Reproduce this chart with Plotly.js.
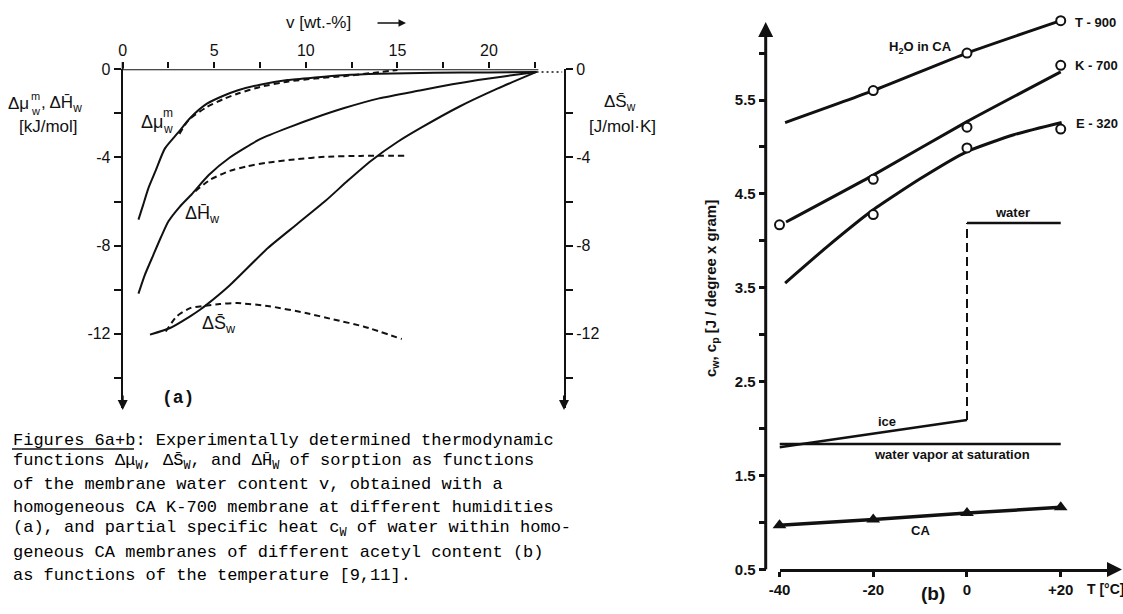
<!DOCTYPE html>
<html>
<head>
<meta charset="utf-8">
<script src="https://cdn.plot.ly/plotly-3.0.1.min.js"></script>
<style>html,body{margin:0;padding:0;background:#fff;}#chart{width:1123px;height:614px;}</style>
</head>
<body>
<div id="chart"></div>
<script>
// ---------- Panel (a): thermodynamic functions vs water content v [wt.-%] ----------
const vMuSolid = [0.86,1.1,1.4,1.8,2.3,3.0,3.7,4.6,5.5,6.3,7.5,9,10.5,12,14,17,20,22.6];
const muSolid  = [-6.82,-6.2,-5.4,-4.6,-3.6,-2.9,-2.2,-1.56,-1.2,-0.95,-0.7,-0.49,-0.37,-0.27,-0.2,-0.16,-0.14,-0.12];
const vMuDash  = [3.1,3.6,4.6,5.5,6.3,7.5,9,10.5,12.1,13.5,15.0];
const muDash   = [-2.93,-2.3,-1.71,-1.35,-1.1,-0.8,-0.56,-0.42,-0.31,-0.18,-0.03];
const vHSolid  = [0.86,1.2,1.67,2.1,2.5,3.1,3.76,4.7,5.85,7.5,9.19,10.5,12.1,14,16.3,18,19.4,21,22.6];
const hSolid   = [-10.18,-9.35,-8.43,-7.6,-6.9,-6.25,-5.68,-4.8,-4.0,-3.17,-2.6,-2.2,-1.76,-1.32,-0.95,-0.68,-0.49,-0.3,-0.12];
const vHDash   = [3.97,4.8,5.85,6.8,7.93,9.5,11.06,13,15.45];
const hDash    = [-5.53,-5.0,-4.61,-4.4,-4.23,-4.08,-3.97,-3.93,-3.92];
const vSSolid  = [1.49,2.59,3.68,4.22,4.59,5.85,7.93,9.5,11.06,12.3,13.57,15,16.3,18.37,20.46,22.6];
const sSolid   = [-12.04,-11.74,-11.21,-10.91,-10.68,-9.8,-8.11,-7.04,-5.98,-5.05,-4.15,-3.3,-2.65,-1.7,-0.88,-0.12];
const vSDash   = [2.35,2.95,3.68,4.5,5.3,6.26,8,10.0,11.5,13.15,15.24];
const sDash    = [-11.9,-11.21,-10.84,-10.73,-10.65,-10.61,-10.75,-11.06,-11.35,-11.67,-12.24];
const vDotted  = [22.6,24.0];
const yDotted  = [-0.12,-0.12];
const vTicks   = [0,2.5,5,7.5,10,12.5,15,17.5,20,22.5];
const vTickTxt = ['0','','5','','10','','15','','20',''];
const aTicks   = [0,-2,-4,-6,-8,-10,-12,-14];
const aTickTxt = ['0','','-4','','-8','','-12',''];

// ---------- Panel (b): specific heat vs temperature T [°C] ----------
const tT900L = [-38.8,-20,0,20];       const cT900L = [5.26,5.60,6.00,6.345];
const tT900P = [-20,0,20];             const cT900P = [5.60,6.00,6.345];
const tK700L = [-38.6,-20,0,20];       const cK700L = [4.20,4.70,5.27,5.80];
const tK700P = [-40,-20,0,20];         const cK700P = [4.17,4.655,5.21,5.87];
const tE320L = [-38.8,-30,-20,-10,0,10,20.2]; const cE320L = [3.55,3.93,4.33,4.66,4.95,5.13,5.26];
const tE320P = [-20,0,20];             const cE320P = [4.28,4.99,5.19];
const tWater = [0,20];                 const cWater = [4.19,4.19];
const tJump  = [0,0];                  const cJump  = [2.09,4.19];
const tIce   = [-40,0];                const cIce   = [1.80,2.09];
const tVapor = [-40,20];               const cVapor = [1.835,1.835];
const tCA    = [-40,-20,0,20];         const cCA    = [0.97,1.03,1.10,1.16];
const tTicks = [-40,-20,0,20];
const tTickTxt = ['-40','-20','0','+20'];
const bTicks = [0.5,1,1.5,2,2.5,3,3.5,4,4.5,5,5.5,6];
const bTickTxt = ['0.5','','1.5','','2.5','','3.5','','4.5','','5.5',''];

const W = 1123, H = 614;
const px = x => x / W;
const py = y => 1 - y / H;
const INK = '#111';

function lineA(x, y, dash, yaxis) {
  return {x, y, type:'scatter', mode:'lines', xaxis:'x', yaxis: yaxis || 'y',
          line:{color:INK, width:2, dash: dash || 'solid', shape:'spline', smoothing:0.6}, hoverinfo:'skip'};
}
function lineB(x, y, extra) {
  return Object.assign({x, y, type:'scatter', mode:'lines', xaxis:'x2', yaxis:'y3', cliponaxis:false,
          line:{color:INK, width:3, shape:'spline', smoothing:0.5}, hoverinfo:'skip'}, extra || {});
}
function circlesB(x, y) {
  return {x, y, type:'scatter', mode:'markers', xaxis:'x2', yaxis:'y3', cliponaxis:false,
          marker:{symbol:'circle', size:9, color:'#fff', line:{color:INK, width:2}}, hoverinfo:'skip'};
}

const traces = [
  lineA(vMuSolid, muSolid),
  lineA(vMuDash, muDash, '6px,4px'),
  lineA(vHSolid, hSolid),
  lineA(vHDash, hDash, '6px,4px'),
  lineA(vSSolid, sSolid, null, 'y2'),
  lineA(vSDash, sDash, '6px,4px', 'y2'),
  {x:vDotted, y:yDotted, type:'scatter', mode:'lines', xaxis:'x', yaxis:'y',
   line:{color:INK, width:1.5, dash:'2px,3px'}, hoverinfo:'skip'},
  lineB(tT900L, cT900L),
  lineB(tK700L, cK700L),
  lineB(tE320L, cE320L),
  lineB(tWater, cWater, {line:{color:INK, width:2.5}}),
  lineB(tJump, cJump, {line:{color:INK, width:2, dash:'9px,5px'}}),
  lineB(tIce, cIce, {line:{color:INK, width:2.5}}),
  lineB(tVapor, cVapor, {line:{color:INK, width:2.5}}),
  lineB(tCA, cCA, {line:{color:INK, width:3.5}}),
  circlesB(tT900P, cT900P),
  circlesB(tK700P, cK700P),
  circlesB(tE320P, cE320P),
  {x:tCA, y:cCA, type:'scatter', mode:'markers', xaxis:'x2', yaxis:'y3', cliponaxis:false,
   marker:{symbol:'triangle-up', size:12, color:INK}, hoverinfo:'skip'}
];

const SANS = 'Liberation Sans, Arial, sans-serif';
const MONO = 'Liberation Mono, Courier New, monospace';
const aFont = {family:SANS, size:16, color:INK};
const bFont = {family:SANS, size:15, color:INK, weight:700};
const yRangeA = [-15.37, 0];

const layout = {
  width:W, height:H, margin:{l:0,r:0,t:0,b:0},
  paper_bgcolor:'#fff', plot_bgcolor:'rgba(0,0,0,0)', showlegend:false,
  font:{family:SANS, color:INK},
  xaxis:{domain:[px(122.7), px(564)], range:[0,24.1], side:'top', anchor:'y',
         showgrid:false, zeroline:false, showline:false,
         ticks:'outside', ticklen:6, tickwidth:2, tickcolor:INK,
         tickmode:'array', tickvals:vTicks, ticktext:vTickTxt, tickfont:aFont},
  yaxis:{domain:[py(408), py(69.3)], range:yRangeA, anchor:'x', side:'left',
         showgrid:false, zeroline:false, showline:true, linewidth:2, linecolor:INK,
         ticks:'outside', ticklen:7, tickwidth:2, tickcolor:INK,
         tickmode:'array', tickvals:aTicks, ticktext:aTickTxt, tickfont:aFont},
  yaxis2:{overlaying:'y', side:'right', anchor:'x', range:yRangeA,
          showgrid:false, zeroline:false, showline:true, linewidth:2, linecolor:INK,
          ticks:'outside', ticklen:7, tickwidth:2, tickcolor:INK,
          tickmode:'array', tickvals:aTicks, ticktext:aTickTxt, tickfont:aFont},
  xaxis2:{domain:[px(779.5), px(1112)], range:[-40, 30.94], anchor:'y3',
          showgrid:false, zeroline:false, showline:true, linewidth:3, linecolor:INK,
          ticks:'outside', ticklen:5, tickwidth:3, tickcolor:INK,
          tickmode:'array', tickvals:tTicks, ticktext:tTickTxt, tickfont:bFont},
  yaxis3:{domain:[py(569.3), py(10)], range:[0.5, 6.459], anchor:'free', position:px(765.7),
          showgrid:false, zeroline:false, showline:false,
          ticks:'outside', ticklen:7, tickwidth:3, tickcolor:INK,
          tickmode:'array', tickvals:bTicks, ticktext:bTickTxt, tickfont:bFont},
  shapes:[
    {type:'line', xref:'x', yref:'y', x0:0, x1:22.7, y0:0, y1:0, line:{color:INK, width:2}},
    {type:'line', xref:'paper', yref:'paper', x0:px(122.7), x1:px(122.7), y0:py(69.3), y1:py(62), line:{color:INK, width:2}},
    {type:'line', xref:'paper', yref:'paper', x0:px(765.7), x1:px(765.7), y0:py(569.3), y1:py(32), line:{color:INK, width:3}},
    {type:'line', xref:'paper', yref:'paper', x0:px(12), x1:px(134), y0:py(449), y1:py(449), line:{color:INK, width:1.5}}
  ],
  annotations:[]
};

const ann = layout.annotations;
function txt(x, y, text, opt) {
  ann.push(Object.assign({xref:'paper', yref:'paper', x:px(x), y:py(y), text, showarrow:false,
    xanchor:'center', yanchor:'middle', font:{family:SANS, size:16, color:INK}}, opt || {}));
}
function arrow(x, y, ax, ay, w) {
  ann.push({xref:'paper', yref:'paper', x:px(x), y:py(y), ax, ay, text:'', showarrow:true,
    arrowhead:2, arrowsize:1, arrowwidth:w || 2, arrowcolor:INK});
}
const sf = (s) => ({family:SANS, size:s, color:INK});
const bl = (s) => ({family:SANS, size:s, color:INK, weight:700});

// axis arrows
arrow(122.7, 410, 0, -16, 2);
arrow(564, 410, 0, -16, 2);
arrow(765.7, 22, 0, 16, 3);
arrow(1122, 569.5, -16, 0, 3);
arrow(406, 23, -30, 0, 1.5);

// panel (a) texts
txt(318, 22, 'v [wt.-%]', {font:sf(17)});
txt(6, 104, 'Δμ', {xanchor:'left', font:sf(17)});
txt(29, 96, 'm', {xanchor:'left', font:sf(11)});
txt(29, 111, 'w', {xanchor:'left', font:sf(11)});
txt(39, 104, ', ΔH\u0304<sub>w</sub>', {xanchor:'left', font:sf(17)});
txt(48, 127, '[kJ/mol]', {font:sf(17)});
txt(620, 103, 'ΔS\u0304<sub>w</sub>', {font:sf(17)});
txt(622, 127, '[J/mol·K]', {font:sf(17)});
txt(152, 122, 'Δμ', {font:sf(18)});
txt(168, 113, 'm', {font:sf(12)});
txt(168, 129, 'w', {font:sf(12)});
txt(202, 215, 'ΔH\u0304<sub>w</sub>', {font:sf(18)});
txt(219, 324, 'ΔS\u0304<sub>w</sub>', {font:sf(18)});
txt(178, 398, '(a)', {font:{family:MONO, size:18, color:INK, weight:700}});

// panel (b) texts
txt(920, 47, 'H<sub>2</sub>O in CA', {font:bl(13)});
txt(1073, 22, 'T - 900', {xanchor:'left', font:bl(13)});
txt(1073, 65, 'K - 700', {xanchor:'left', font:bl(13)});
txt(1074, 124, 'E - 320', {xanchor:'left', font:bl(13)});
txt(1012, 213, 'water', {font:bl(13)});
txt(887, 421, 'ice', {font:bl(13)});
txt(952, 454, 'water vapor at saturation', {font:bl(13)});
txt(920, 530, 'CA', {font:bl(13)});
txt(933, 593, '(b)', {font:bl(19)});
txt(1105, 589, 'T [°C]', {font:bl(14)});
txt(711, 289, 'c<sub>w</sub>, c<sub>p</sub> [J / degree x gram]', {textangle:-90, font:bl(15)});

// caption
const capLines = [
  'Figures 6a+b: Experimentally determined thermodynamic',
  'functions Δμ<sub>W</sub>, ΔS\u0304<sub>W</sub>, and ΔH\u0304<sub>W</sub> of sorption as functions',
  'of the membrane water content v, obtained with a',
  'homogeneous CA K-700 membrane at different humidities',
  '(a), and partial specific heat c<sub>W</sub> of water within homo-',
  'geneous CA membranes of different acetyl content (b)',
  'as functions of the temperature [9,11].'
];
const capY = [440, 462, 484, 507, 529, 552, 575];
capLines.forEach((s, i) => txt(11, capY[i], s, {xanchor:'left',
  font:{family:MONO, size:17, color:'#000'}}));

Plotly.newPlot('chart', traces, layout, {staticPlot:true});
</script>
</body>
</html>
